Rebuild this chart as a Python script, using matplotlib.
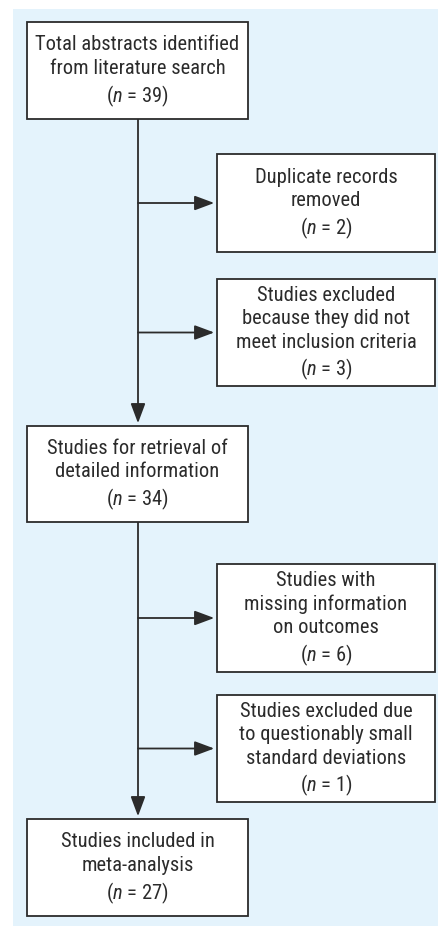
import matplotlib.pyplot as plt
from matplotlib.patches import Rectangle, FancyArrowPatch

plt.rcParams['font.family'] = ['Roboto Condensed', 'DejaVu Sans']
plt.rcParams['mathtext.fontset'] = 'custom'
plt.rcParams['mathtext.rm'] = 'Roboto Condensed'
plt.rcParams['mathtext.it'] = 'Roboto Condensed:italic'

# Flow chart content
main_labels = ["Total abstracts identified\nfrom literature search",
               "Studies for retrieval of\ndetailed information",
               "Studies included in\nmeta-analysis"]
main_n = [39, 34, 27]
side_labels = ["Duplicate records\nremoved",
               "Studies excluded\nbecause they did not\nmeet inclusion criteria",
               "Studies with\nmissing information\non outcomes",
               "Studies excluded due\nto questionably small\nstandard deviations"]
side_n = [2, 3, 6, 1]

# Layout (pixel units, y downwards)
W, H = 439, 927
main_x = (27, 248)
main_y = [(22, 119), (426, 522), (819, 916)]
side_x = (217, 435)
side_y = [(154, 252), (279, 386), (564, 672), (695, 802)]
spine_x = 138
ink = '#2b2b2b'
bg = '#e4f3fc'

fig = plt.figure(figsize=(W / 100, H / 100), dpi=100)
ax = fig.add_axes([0, 0, 1, 1])
ax.set_xlim(0, W)
ax.set_ylim(H, 0)
ax.axis('off')

ax.add_patch(Rectangle((13, 9), W - 13, 917, facecolor=bg, edgecolor='none', zorder=0))


def box(x, y, label, n):
    ax.add_patch(Rectangle((x[0], y[0]), x[1] - x[0], y[1] - y[0],
                           facecolor='white', edgecolor=ink, lw=1.3, zorder=2))
    txt = label + "\n($n$ = %d)" % n
    ax.text((x[0] + x[1]) / 2, (y[0] + y[1]) / 2 + 1.5, txt, ha='center', va='center',
            fontsize=14.8, color=ink, linespacing=1.3, zorder=3)


def arrow(p0, p1):
    a = FancyArrowPatch(p0, p1, arrowstyle='-|>,head_length=0.75,head_width=0.28',
                        mutation_scale=16, color=ink, lw=1.3,
                        shrinkA=0, shrinkB=2, zorder=1)
    ax.add_patch(a)


for lab, n, y in zip(main_labels, main_n, main_y):
    box(main_x, y, lab, n)
for lab, n, y in zip(side_labels, side_n, side_y):
    box(side_x, y, lab, n)

# vertical spine with arrows into next main box
for i in range(len(main_y) - 1):
    arrow((spine_x, main_y[i][1]), (spine_x, main_y[i + 1][0]))

# side arrows
for y in side_y:
    yc = (y[0] + y[1]) / 2
    arrow((spine_x, yc), (side_x[0], yc))

fig.savefig('out.png', dpi=100, facecolor='white')
